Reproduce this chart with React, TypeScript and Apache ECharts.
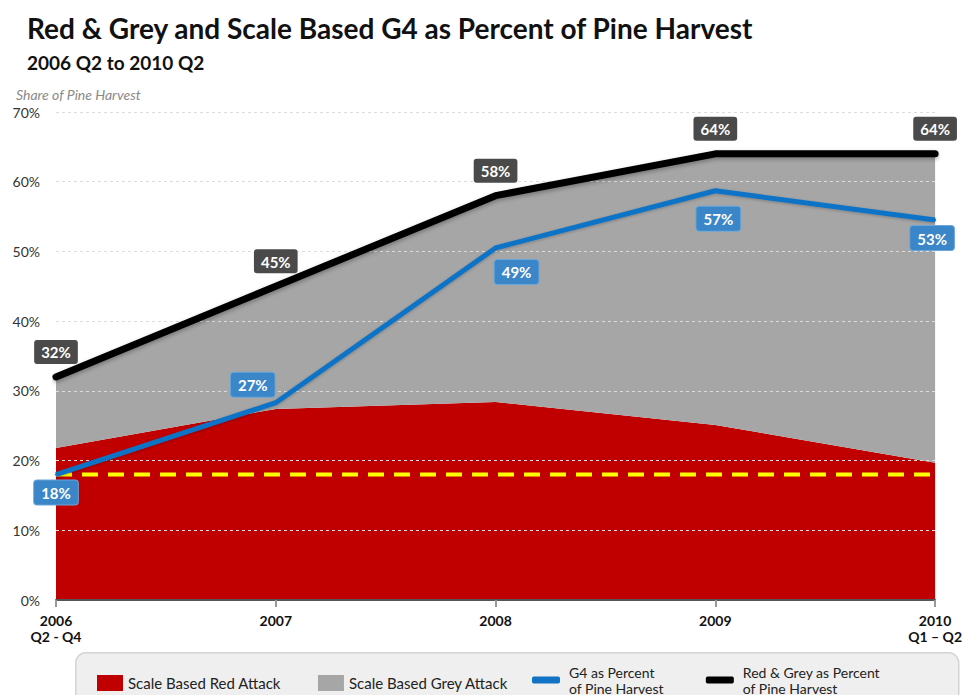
import React, { useEffect, useRef } from "react";
import * as echarts from "echarts";

const categories = ["2006\nQ2 - Q4", "2007", "2008", "2009", "2010\nQ1 – Q2"];
const redAttack = [21.8, 27.4, 28.4, 25.1, 19.7];
const redGreyTotal = [32, 45, 58, 64, 64];
const g4Percent = [18, 28.3, 50.5, 58.7, 54.5];
const g4Labels = ["18%", "27%", "49%", "57%", "53%"];
const totalLabels = ["32%", "45%", "58%", "64%", "64%"];
const thresholdValue = 18;
const yTicks = { min: 0, max: 70, interval: 10 };

const FONT = "Lato, 'Open Sans', sans-serif";

export default function App() {
  const ref = useRef<HTMLDivElement>(null);
  useEffect(() => {
    if (!ref.current) return;
    const chart = echarts.init(ref.current, undefined, { renderer: "svg" });
    const greyAttack = redGreyTotal.map((t, i) => +(t - redAttack[i]).toFixed(1));

    const blueLabelPlacement: any[] = [
      { position: "bottom", distance: 5, offset: [0, 0] },
      { position: "top", distance: 5, offset: [-23, 0] },
      { position: "bottom", distance: 11, offset: [21, 0] },
      { position: "bottom", distance: 15, offset: [3, 0] },
      { position: "bottom", distance: 5, offset: [-3, 0] },
    ];

    const labelBase = {
      show: true,
      color: "#fff",
      fontFamily: FONT,
      fontWeight: "bold",
      fontSize: 15,
      padding: [5, 7, 4, 7],
      borderRadius: 3,
    };

    const option: any = {
      animation: false,
      backgroundColor: "#fff",
      textStyle: { fontFamily: FONT },
      title: [
        {
          text: "Red & Grey and Scale Based G4 as Percent of Pine Harvest",
          left: 22,
          top: 9,
          textStyle: { fontFamily: FONT, fontSize: 28, fontWeight: "bold", color: "#111" },
        },
        {
          text: "2006 Q2 to 2010 Q2",
          left: 22,
          top: 48,
          textStyle: { fontFamily: FONT, fontSize: 19, fontWeight: "bold", color: "#111" },
        },
        {
          text: "Share of Pine Harvest",
          left: 11,
          top: 82,
          textStyle: { fontFamily: FONT, fontSize: 14, fontStyle: "italic", fontWeight: "normal", color: "#8a8a8a" },
        },
      ],
      grid: { left: 56, right: 29, top: 112, bottom: 95, containLabel: false },
      xAxis: {
        type: "category",
        data: categories,
        boundaryGap: false,
        axisLine: { lineStyle: { color: "#555", width: 2 } },
        axisTick: { show: true, alignWithLabel: true, length: 7, lineStyle: { color: "#999", width: 2 } },
        axisLabel: {
          color: "#111",
          fontFamily: FONT,
          fontWeight: "bold",
          fontSize: 14,
          lineHeight: 16,
          margin: 12,
        },
        z: 6,
      },
      yAxis: {
        type: "value",
        min: yTicks.min,
        max: yTicks.max,
        interval: yTicks.interval,
        z: 5,
        axisLine: { show: false },
        axisTick: { show: false },
        axisLabel: {
          formatter: "{value}%",
          color: "#333",
          fontFamily: FONT,
          fontSize: 14,
          margin: 16,
        },
        splitLine: {
          show: true,
          lineStyle: { color: "#dcdcdc", type: [3, 3], width: 1 },
        },
      },
      legend: [
        {
          data: ["Scale Based Red Attack", "Scale Based Grey Attack"],
          left: 92,
          top: 670,
          icon: "rect",
          itemWidth: 26,
          itemHeight: 16,
          itemGap: 37,
          textStyle: { fontFamily: FONT, fontSize: 15, color: "#222" },
          selectedMode: false,
        },
        {
          data: ["G4 as Percent\nof Pine Harvest", "Red & Grey as Percent\nof Pine Harvest"],
          left: 527,
          top: 659,
          icon: "roundRect",
          itemWidth: 28,
          itemHeight: 7,
          itemGap: 42,
          textStyle: { fontFamily: FONT, fontSize: 14, color: "#222", lineHeight: 16, padding: [0, 0, 0, 4] },
          selectedMode: false,
        },
      ],
      graphic: [
        {
          type: "rect",
          left: 75,
          top: 652,
          z: -1,
          shape: { width: 883, height: 60, r: 10 },
          style: { fill: "#efefef", stroke: "#d4d4d4", lineWidth: 1.5 },
        },
      ],
      series: [
        {
          name: "Scale Based Red Attack",
          type: "line",
          stack: "attack",
          data: redAttack,
          symbol: "none",
          lineStyle: { width: 0 },
          itemStyle: { color: "#c00000" },
          areaStyle: { color: "#c00000", opacity: 1 },
          z: 2,
        },
        {
          name: "Scale Based Grey Attack",
          type: "line",
          stack: "attack",
          data: greyAttack,
          symbol: "none",
          lineStyle: { width: 0 },
          itemStyle: { color: "#a6a6a6" },
          areaStyle: { color: "#a6a6a6", opacity: 1 },
          z: 2,
        },
        {
          name: "Threshold",
          type: "line",
          data: categories.map(() => thresholdValue),
          symbol: "none",
          lineStyle: { color: "#ffff00", width: 4, type: [16, 10] },
          z: 8,
          silent: true,
        },
        {
          name: "G4 as Percent\nof Pine Harvest",
          type: "line",
          data: g4Percent.map((v, i) => ({
            value: v,
            label: { ...blueLabelPlacement[i] },
          })),
          symbol: "circle",
          symbolSize: 2,
          showSymbol: true,
          lineStyle: { color: "#1173c6", width: 5, shadowColor: "rgba(0,0,0,0.25)", shadowBlur: 3, shadowOffsetY: 1 },
          itemStyle: { color: "#1173c6" },
          label: {
            ...labelBase,
            backgroundColor: "#3a86c8",
            borderColor: "#6aa6da",
            borderWidth: 1,
            formatter: (p: any) => g4Labels[p.dataIndex],
          },
          z: 10,
        },
        {
          name: "Red & Grey as Percent\nof Pine Harvest",
          type: "line",
          data: redGreyTotal,
          symbol: "circle",
          symbolSize: 2,
          showSymbol: true,
          lineStyle: { color: "#000", width: 7, cap: "round", shadowColor: "rgba(0,0,0,0.3)", shadowBlur: 4, shadowOffsetY: 2 },
          itemStyle: { color: "#000" },
          label: {
            ...labelBase,
            position: "top",
            distance: 12,
            backgroundColor: "#4a4a4a",
            formatter: (p: any) => totalLabels[p.dataIndex],
          },
          z: 11,
        },
      ],
    };
    chart.setOption(option);
    return () => chart.dispose();
  }, []);
  return (
    <div
      ref={ref}
      style={{ position: "fixed", left: 0, top: 0, width: 965, height: 695, background: "#fff" }}
    />
  );
}
